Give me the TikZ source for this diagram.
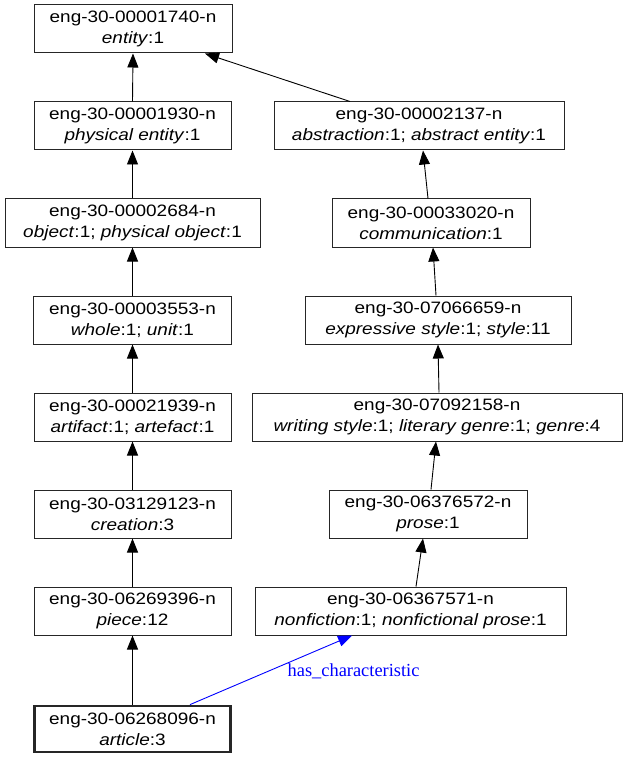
\documentclass[tikz,border=0pt]{standalone}
\usepackage{fontspec}
\setmainfont{Liberation Sans}[FakeStretch=1.15]
\newfontfamily\edgefont{Liberation Serif}
\usetikzlibrary{arrows.meta}

\begin{document}
\begin{tikzpicture}[x=1pt,y=-1pt]
    % Define block styles
    \tikzstyle{synset} = [rectangle, draw=black!85, line width=1pt, align=center,
        minimum height=48pt, inner sep=0pt, font=\fontsize{16.5}{21}\selectfont]
    \tikzstyle{line} = [draw, line width=0.9pt, -{Triangle[length=14pt,width=11pt]}]
    \tikzstyle{relation} = [line, blue]

    \useasboundingbox (0,0) rectangle (628,759);

    % Place nodes, left column
    \node [synset, minimum width=198pt] (entity) at (133,29) {eng-30-00001740-n\\\textit{entity}:1};
    \node [synset, minimum width=197pt] (physent) at (132.5,126) {eng-30-00001930-n\\\textit{physical entity}:1};
    \node [synset, minimum width=255pt] (object) at (132.5,223) {eng-30-00002684-n\\\textit{object}:1; \textit{physical object}:1};
    \node [synset, minimum width=198pt] (whole) at (132.5,320) {eng-30-00003553-n\\\textit{whole}:1; \textit{unit}:1};
    \node [synset, minimum width=197pt] (artifact) at (132.5,417) {eng-30-00021939-n\\\textit{artifact}:1; \textit{artefact}:1};
    \node [synset, minimum width=197pt] (creation) at (132.5,514) {eng-30-03129123-n\\\textit{creation}:3};
    \node [synset, minimum width=197pt] (piece) at (132.5,611) {eng-30-06269396-n\\\textit{piece}:12};
    \node [synset, minimum width=196pt, minimum height=46pt, line width=2.8pt] (article) at (132.5,729) {eng-30-06268096-n\\\textit{article}:3};

    % Place nodes, right column
    \node [synset, minimum width=290pt] (abstraction) at (419,126) {eng-30-00002137-n\\\textit{abstraction}:1; \textit{abstract entity}:1};
    \node [synset, minimum width=198pt] (communication) at (431,223) {eng-30-00033020-n\\\textit{communication}:1};
    \node [synset, minimum width=266pt] (expressive) at (438,320) {eng-30-07066659-n\\\textit{expressive style}:1; \textit{style}:11};
    \node [synset, minimum width=370pt] (writing) at (437,417) {eng-30-07092158-n\\\textit{writing style}:1; \textit{literary genre}:1; \textit{genre}:4};
    \node [synset, minimum width=198pt] (prose) at (428,514) {eng-30-06376572-n\\\textit{prose}:1};
    \node [synset, minimum width=311pt] (nonfiction) at (410.5,611) {eng-30-06367571-n\\\textit{nonfiction}:1; \textit{nonfictional prose}:1};

    % Draw arrows
    \path [line] (physent.north) -- (entity.south);
    \path [line] (object.north) -- (physent.south);
    \path [line] (whole.north) -- (object.south);
    \path [line] (artifact.north) -- (whole.south);
    \path [line] (creation.north) -- (artifact.south);
    \path [line] (piece.north) -- (creation.south);
    \path [line] (article.north) -- (piece.south);
    \path [line] ([xshift=-69pt]abstraction.north) -- ([xshift=72pt]entity.south);
    \path [line] ([xshift=-3pt]communication.north) -- ([xshift=4pt]abstraction.south);
    \path [line] ([xshift=-2pt]expressive.north) -- ([xshift=2pt]communication.south);
    \path [line] ([xshift=2pt]writing.north) -- (expressive.south);
    \path [line] ([xshift=3pt]prose.north) -- ([xshift=-1pt]writing.south);
    \path [line] ([xshift=5.5pt]nonfiction.north) -- ([xshift=-5pt]prose.south);

    % Relation arrow
    \path [relation] ([xshift=57.5pt]article.north) -- node[pos=0.6, anchor=north west, inner sep=0pt, font=\edgefont\fontsize{18.4}{20}\selectfont] {has\_characteristic} ([xshift=-58.5pt]nonfiction.south);
\end{tikzpicture}
\end{document}
